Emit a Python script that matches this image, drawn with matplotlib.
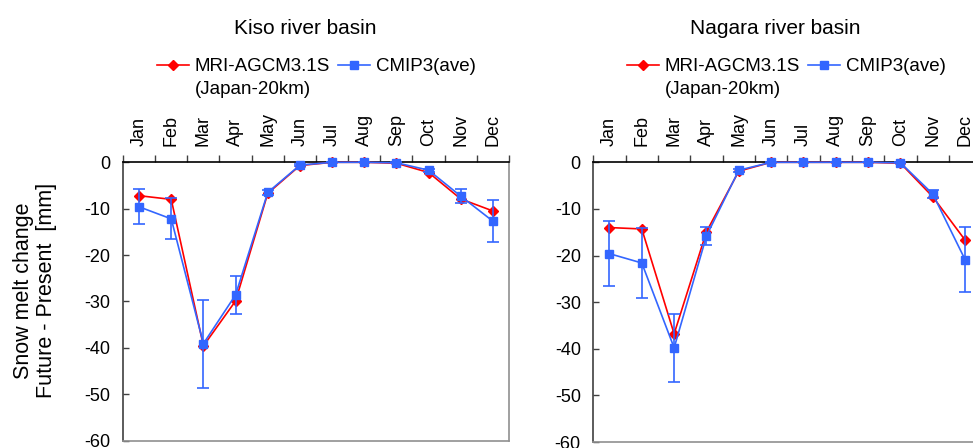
import numpy as np
import matplotlib
matplotlib.use("Agg")
import matplotlib.pyplot as plt
from matplotlib.lines import Line2D

plt.rcParams['font.family'] = ['Liberation Sans', 'DejaVu Sans']
plt.rcParams['axes.unicode_minus'] = False

months = ["Jan", "Feb", "Mar", "Apr", "May", "Jun",
          "Jul", "Aug", "Sep", "Oct", "Nov", "Dec"]

# Kiso river basin
kiso_mri = [-7.2, -8.0, -39.6, -29.9, -6.7, -0.7, 0.0, 0.0, -0.2, -2.2, -7.9, -10.5]
kiso_cmip = [-9.6, -12.2, -39.1, -28.6, -6.5, -0.6, 0.0, 0.0, -0.1, -1.7, -7.3, -12.7]
kiso_cmip_err = [3.8, 4.4, 9.5, 4.1, 0.5, 0.2, 0.0, 0.0, 0.1, 0.3, 1.5, 4.5]

# Nagara river basin
nagara_mri = [-14.0, -14.3, -36.8, -14.9, -1.9, 0.0, 0.0, 0.0, 0.0, -0.2, -7.4, -16.7]
nagara_cmip = [-19.6, -21.6, -39.8, -15.8, -1.7, 0.0, 0.0, 0.0, 0.0, -0.1, -6.8, -20.9]
nagara_cmip_err = [7.0, 7.5, 7.3, 1.9, 0.3, 0.0, 0.0, 0.0, 0.0, 0.1, 0.9, 7.0]

RED = "#ff0000"
BLUE = "#3366ff"


def draw_panel(ax, mri, cmip, err):
    x = np.arange(1, len(months) + 1)
    ax.plot(x, mri, color=RED, marker="D", ms=5, lw=1.2, clip_on=False, zorder=3)
    ax.errorbar(x, cmip, yerr=err, color=BLUE, marker="s", ms=6, lw=1.2,
                elinewidth=1.2, capsize=4, capthick=1.2, clip_on=False, zorder=4)

    ax.set_xlim(0.5, 12.5)
    ax.set_ylim(-60, 0)
    ax.set_xticks(x)
    ax.set_xticklabels(months)
    ax.set_xticks(np.arange(0.5, 13, 1), minor=True)
    ax.set_yticks(np.arange(-60, 1, 10))

    ax.tick_params(axis="x", which="major", top=True, bottom=False,
                   labeltop=True, labelbottom=False, length=0, pad=12,
                   labelrotation=90, labelsize=13)
    ax.tick_params(axis="x", which="minor", top=True, bottom=False,
                   direction="out", length=5, width=1, color="#404040")
    ax.tick_params(axis="y", direction="in", length=4.5, width=1,
                   labelsize=13, pad=9, color="#404040")

    ax.spines["top"].set_color("black")
    ax.spines["left"].set_color("#404040")
    ax.spines["right"].set_color("#909090")
    ax.spines["bottom"].set_color("#909090")
    for s in ax.spines.values():
        s.set_linewidth(1.2)

    handles = [Line2D([], [], color=RED, marker="D", ms=5, lw=1.2),
               Line2D([], [], alpha=0),
               Line2D([], [], color=BLUE, marker="s", ms=6, lw=1.2)]
    labels = ["MRI-AGCM3.1S", "(Japan-20km)", "CMIP3(ave)"]
    return handles, labels


fig = plt.figure(figsize=(9.73, 4.48), dpi=100)
ax1 = fig.add_axes([123 / 973, 7.5 / 448, 386 / 973, 278.2 / 448])
ax2 = fig.add_axes([593.3 / 973, 6 / 448, 388 / 973, 279.7 / 448])

legend_kw = dict(ncol=2, loc="upper left", frameon=False, fontsize=13.5,
                 handlelength=1.7, handletextpad=0.3, columnspacing=0.45,
                 labelspacing=0.3, borderpad=0, borderaxespad=0)

h, l = draw_panel(ax1, kiso_mri, kiso_cmip, kiso_cmip_err)
fig.legend(h, l, bbox_to_anchor=(157 / 973, 1 - 58 / 448), **legend_kw)
h, l = draw_panel(ax2, nagara_mri, nagara_cmip, nagara_cmip_err)
fig.legend(h, l, bbox_to_anchor=(627 / 973, 1 - 58 / 448), **legend_kw)

fig.text(305.5 / 973, 1 - 28 / 448, "Kiso river basin", ha="center", va="center", fontsize=15)
fig.text(775.6 / 973, 1 - 28 / 448, "Nagara river basin", ha="center", va="center", fontsize=15)

ax1.set_ylabel("Snow melt change\nFuture - Present  [mm]", fontsize=15.5, linespacing=1.1)
ax1.yaxis.set_label_coords(-0.172, 0.54)

fig.savefig("out.png", dpi=100)
